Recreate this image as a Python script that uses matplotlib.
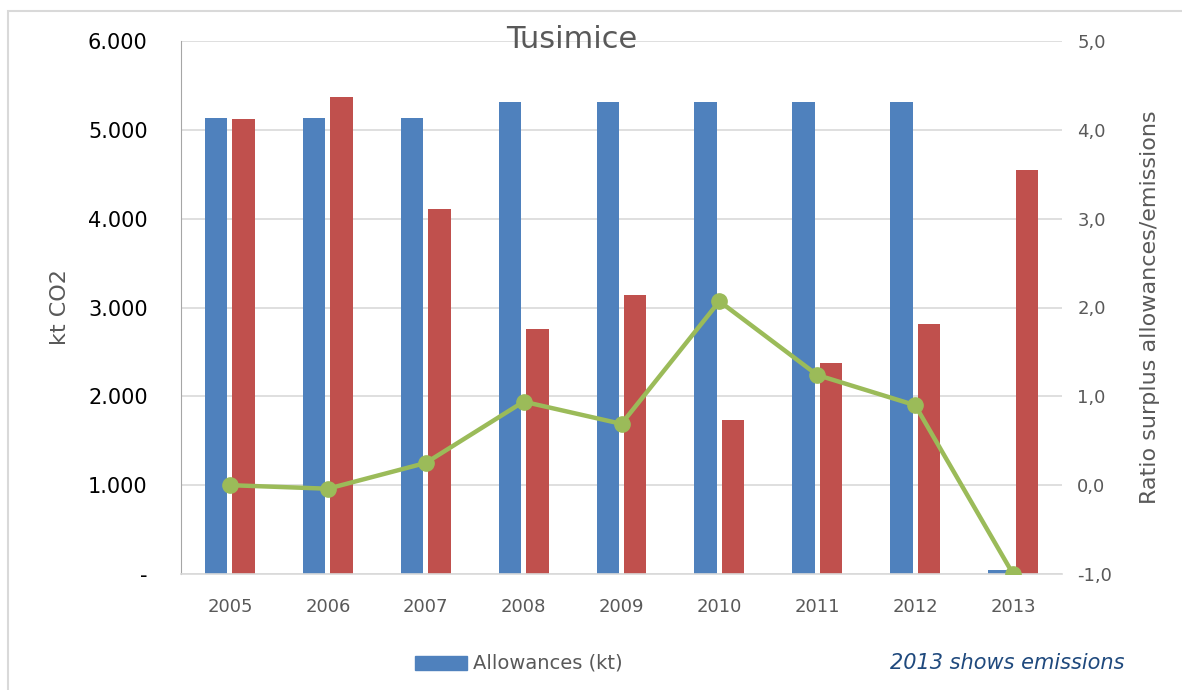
import matplotlib
matplotlib.use("Agg")
import matplotlib.pyplot as plt
import matplotlib.patches as mpatches
import numpy as np

# Dados
anos = ["2005", "2006", "2007", "2008", "2009", "2010", "2011", "2012", "2013"]
allowances = [5135, 5135, 5135, 5315, 5315, 5315, 5315, 5315, 45]
emissions = [5124, 5372, 4110, 2759, 3142, 1734, 2376, 2815, 4550]
ratio = [0.00, -0.04, 0.25, 0.94, 0.69, 2.07, 1.24, 0.90, -1.00]

left_ticks = [0, 1000, 2000, 3000, 4000, 5000, 6000]
left_labels = ["-", "1.000", "2.000", "3.000", "4.000", "5.000", "6.000"]
right_ticks = [-1, 0, 1, 2, 3, 4, 5]
right_labels = ["-1,0", "0,0", "1,0", "2,0", "3,0", "4,0", "5,0"]

BLUE = "#4F81BD"
RED = "#C0504D"
GREEN = "#9BBB59"
GRID = "#D9D9D9"
GRAY = "#595959"

fig = plt.figure(figsize=(11.82, 6.9), dpi=100)
fig.patch.set_facecolor("white")

# moldura externa
fig.patches.append(mpatches.Rectangle((8 / 1182, -0.05), 1.2, 1 - 11 / 690 + 0.05,
                                      transform=fig.transFigure, fill=False,
                                      edgecolor="#D9D9D9", linewidth=1.5))

ax = fig.add_axes([181 / 1182, 116 / 690, 881 / 1182, 533 / 690])
x = np.arange(len(anos))
w = 0.23
ax.bar(x - 0.14, allowances, w, color=BLUE, zorder=2)
ax.bar(x + 0.14, emissions, w, color=RED, zorder=2)

ax.set_xlim(-0.5, len(anos) - 0.5)
ax.set_ylim(0, 6000)
ax.set_yticks(left_ticks)
ax.set_yticklabels(left_labels, fontsize=15, color="black")
ax.set_xticks(x)
ax.set_xticklabels(anos, fontsize=13, color=GRAY)
ax.tick_params(axis="x", length=0, pad=17)
ax.tick_params(axis="y", length=0, pad=24)
ax.yaxis.grid(True, color=GRID, linewidth=1.2, zorder=0)
ax.set_axisbelow(True)
for s in ["top", "right"]:
    ax.spines[s].set_visible(False)
ax.spines["left"].set_color("#A6A6A6")
ax.spines["bottom"].set_color(GRID)
ax.spines["bottom"].set_linewidth(1.2)
ax.set_ylabel("kt CO2", fontsize=16, color=GRAY, labelpad=13)

ax2 = ax.twinx()
ax2.plot(x, ratio, color=GREEN, linewidth=3.2, marker="o", markersize=11, zorder=5)
ax2.set_ylim(-1, 5)
ax2.set_yticks(right_ticks)
ax2.set_yticklabels(right_labels, fontsize=13, color=GRAY)
ax2.tick_params(axis="y", length=0, pad=11)
for s in ["top", "right", "left", "bottom"]:
    ax2.spines[s].set_visible(False)
ax2.set_ylabel("Ratio surplus allowances/emissions", fontsize=16, color=GRAY,
               labelpad=20)

fig.text(572 / 1182, 1 - 40 / 690, "Tusimice", ha="center", va="center",
         fontsize=22, color=GRAY)

# legenda
fig.patches.append(mpatches.Rectangle((415 / 1182, 1 - 670 / 690), 52 / 1182, 14 / 690,
                                      transform=fig.transFigure, color=BLUE))
fig.text(473 / 1182, 1 - 663 / 690, "Allowances (kt)", ha="left", va="center",
         fontsize=14, color=GRAY)
fig.text(1125 / 1182, 1 - 663 / 690, "2013 shows emissions", ha="right", va="center",
         fontsize=15, color="#1F497D", style="italic")

fig.savefig("out.png", dpi=100)
